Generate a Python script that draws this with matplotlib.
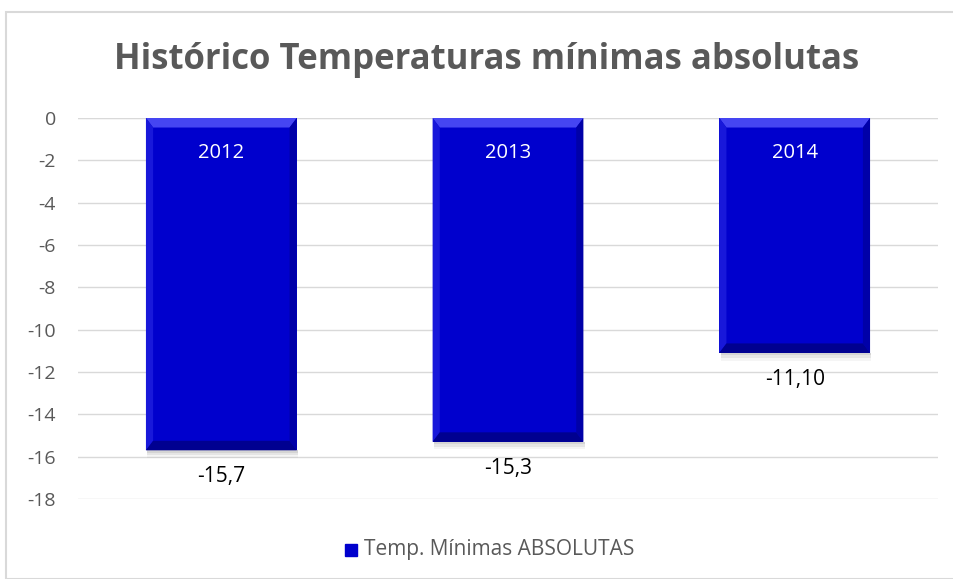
import numpy as np
import matplotlib.pyplot as plt
from matplotlib.patches import Rectangle, Polygon

# %% data
years = ['2012', '2013', '2014']
temps = [-15.7, -15.3, -11.1]
value_labels = ['-15,7', '-15,3', '-11,10']
yticks = [0, -2, -4, -6, -8, -10, -12, -14, -16, -18]
series_name = 'Temp. Mínimas ABSOLUTAS'

plt.rcParams['font.family'] = ['Open Sans', 'DejaVu Sans']
gray = '#595959'
blue = '#0000CD'

fig = plt.figure(figsize=(9.54, 5.79), dpi=100)
ax = fig.add_axes([78 / 954, 1 - 499 / 579, 860 / 954, 381 / 579])

# chart border
fig.patches.append(Rectangle((6 / 954, 0), 1.0, 1 - 12 / 579, transform=fig.transFigure,
                             fill=False, edgecolor='#D9D9D9', linewidth=1.5))

x = np.arange(len(years))
width = 0.526
ax.bar(x, temps, width=width, color=blue, edgecolor='none', zorder=2)

# bevel edges + soft shadow on each bar
bev_x = 0.025
bev_y = 0.45
for xi, t in zip(x, temps):
    l, r = xi - width / 2, xi + width / 2
    for k, a in enumerate([0.25, 0.18, 0.1]):
        ax.add_patch(Rectangle((l + 0.005, t - 0.12 * (k + 1)), width, 0.12 * (k + 1),
                               color='#A0A0A0', alpha=a, zorder=1, lw=0))
    ax.add_patch(Polygon([(l, 0), (r, 0), (r - bev_x, -bev_y), (l + bev_x, -bev_y)],
                         closed=True, color='#4545F2', zorder=3, lw=0))
    ax.add_patch(Polygon([(l, 0), (l + bev_x, -bev_y), (l + bev_x, t + bev_y), (l, t)],
                         closed=True, color='#1818DA', zorder=3, lw=0))
    ax.add_patch(Polygon([(r, 0), (r - bev_x, -bev_y), (r - bev_x, t + bev_y), (r, t)],
                         closed=True, color='#0000A8', zorder=3, lw=0))
    ax.add_patch(Polygon([(l, t), (r, t), (r - bev_x, t + bev_y), (l + bev_x, t + bev_y)],
                         closed=True, color='#000090', zorder=3, lw=0))

for xi, yr in zip(x, years):
    ax.text(xi, -1.65, yr, ha='center', va='center', color='white', fontsize=14.5, zorder=4)

for xi, t, lab in zip(x, temps, value_labels):
    ax.text(xi, t - 1.25, lab, ha='center', va='center', color='black', fontsize=15, zorder=4)

ax.set_xlim(-0.5, len(years) - 0.5)
ax.set_ylim(-18, 0)
ax.set_yticks(yticks)
ax.set_yticklabels([str(v) for v in yticks])
ax.tick_params(axis='y', length=0, labelsize=14, labelcolor=gray, pad=16)
ax.set_xticks([])
ax.grid(axis='y', color='#D9D9D9', linewidth=1, zorder=0)
ax.set_axisbelow(True)
for s in ax.spines.values():
    s.set_visible(False)
ax.axhline(0, color='#D9D9D9', linewidth=1.5, zorder=1)

fig.text(487 / 954, 1 - 60 / 579, 'Histórico Temperaturas mínimas absolutas', ha='center', va='center',
         fontsize=25, fontweight='bold', color=gray)

# legend
fig.patches.append(Rectangle((345 / 954, 1 - 556 / 579), 12 / 954, 12 / 579,
                             transform=fig.transFigure, color=blue))
fig.text(364 / 954, 1 - 550 / 579, series_name, ha='left', va='center', fontsize=15, color=gray)

fig.savefig('out.png', dpi=100)
